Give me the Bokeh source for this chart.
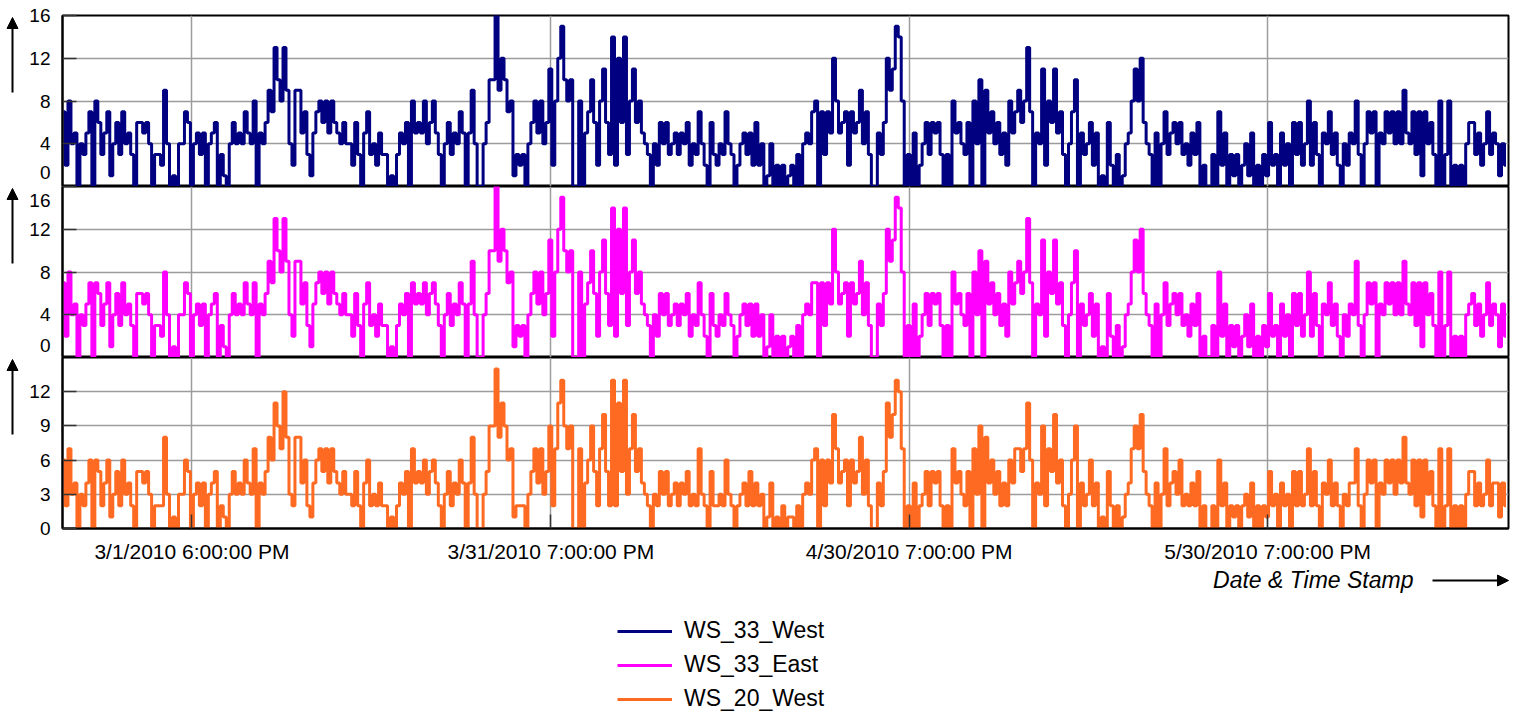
import pandas as pd
from bokeh.plotting import figure
from bokeh.models import Range1d, FixedTicker, Label, Arrow, NormalHead, Legend, LegendItem
from bokeh.layouts import column, row
from bokeh.embed import file_html
from bokeh.resources import INLINE

# ---------------- data ----------------
SERIES_START = "2010-02-19 00:00"
SERIES_STEP = "6h"
X_START = "2010-02-18 22:00"
X_END = "2010-06-19 23:00"

tick_times = ["2010-03-01 18:00", "2010-03-31 19:00", "2010-04-30 19:00", "2010-05-30 19:00"]
tick_labels = ["3/1/2010 6:00:00 PM", "3/31/2010 7:00:00 PM", "4/30/2010 7:00:00 PM", "5/30/2010 7:00:00 PM"]

series_names = ["WS_33_West", "WS_33_East", "WS_20_West"]
series_colors = ["#000080", "#ff00ff", "#ff6a22"]
y_ticks = [[0, 4, 8, 12, 16], [0, 4, 8, 12, 16], [0, 3, 6, 9, 12]]
y_max = [16, 16, 15]
x_title = "Date & Time Stamp"

ws_33_west = [
    7, 2, 8, 4,  5, 0, 4, 3,  5, 7, 0, 8,  6, 3, 5, 7,  1, 4, 6, 3,
    7, 4, 5, 3,  0, 6, 6, 5,  6, 4, 0, 3,  3, 2, 9, 4,  0, 1, 0, 4,
    4, 7, 6, 0,  4, 5, 3, 5,  0, 4, 5, 6,  0, 3, 1, 0,  4, 6, 4, 5,
    4, 7, 5, 4,  8, 0, 5, 4,  6, 9, 7, 13,  10, 8, 13, 9,  4, 2, 9, 9,
    5, 7, 3, 1,  5, 7, 8, 6,  8, 5, 8, 6,  5, 4, 6, 4,  4, 2, 6, 3,
    0, 5, 7, 3,  4, 2, 5, 3,  3, 0, 1, 0,  3, 5, 4, 6,  0, 8, 5, 6,
    5, 8, 4, 6,  8, 5, 3, 0,  4, 6, 3, 5,  4, 7, 5, 0,  5, 9, 4, 0,
    0, 4, 6, 10,  10, 16, 9, 12,  10, 7, 8, 1,  3, 2, 3, 0,  4, 6, 8, 5,
    8, 4, 6, 11,  2, 8, 12, 15,  10, 8, 10, 0,  0, 8, 0, 5,  7, 10, 6, 2,
    8, 11, 6, 3,  14, 2, 12, 6,  14, 3, 8, 11,  6, 8, 5, 4,  3, 0, 4, 2,
    6, 4, 6, 3,  4, 5, 3, 5,  4, 6, 2, 4,  3, 7, 4, 2,  0, 6, 3, 2,
    4, 3, 7, 4,  3, 0, 2, 4,  5, 3, 5, 2,  6, 2, 4, 0,  1, 4, 0, 2,
    0, 2, 0, 1,  2, 0, 3, 0,  4, 5, 4, 7,  8, 0, 7, 3,  7, 5, 12, 8,
    5, 6, 7, 2,  7, 5, 6, 9,  4, 7, 3, 0,  0, 5, 3, 6,  12, 9, 11, 15,
    14, 8, 0, 3,  0, 5, 0, 2,  4, 6, 3, 6,  5, 6, 3, 0,  3, 0, 8, 5,
    6, 4, 3, 6,  0, 8, 4, 10,  0, 9, 5, 7,  4, 6, 3, 5,  2, 8, 5, 7,
    9, 6, 8, 13,  7, 0, 5, 4,  11, 2, 8, 6,  11, 5, 7, 3,  0, 4, 7, 10,
    0, 5, 3, 4,  6, 2, 5, 0,  1, 0, 6, 2,  0, 3, 0, 1,  4, 5, 8, 11,
    8, 12, 6, 4,  3, 0, 5, 0,  4, 7, 3, 5,  6, 4, 6, 3,  4, 2, 5, 3,
    6, 0, 2, 0,  0, 3, 0, 7,  2, 5, 0, 3,  1, 3, 0, 2,  4, 1, 5, 0,
    2, 0, 3, 1,  6, 2, 3, 0,  5, 2, 4, 0,  6, 3, 6, 2,  4, 8, 2, 6,
    3, 0, 5, 4,  7, 3, 5, 2,  0, 4, 2, 5,  4, 8, 3, 0,  4, 7, 5, 7,
    0, 5, 4, 7,  5, 7, 4, 7,  4, 9, 5, 4,  7, 3, 7, 1,  7, 4, 6, 3,
    0, 8, 0, 3,  8, 0, 2, 0,  2, 0, 4, 6,  6, 3, 5, 2,  4, 7, 3, 5,
    4, 1, 4, 2,
]

ws_33_east = [
    7, 2, 8, 4,  5, 0, 4, 3,  5, 7, 0, 7,  6, 3, 5, 7,  1, 4, 6, 3,
    7, 4, 5, 3,  0, 6, 6, 5,  6, 4, 0, 3,  3, 2, 8, 4,  0, 1, 0, 4,
    4, 7, 6, 0,  4, 5, 3, 5,  0, 4, 5, 6,  0, 3, 1, 0,  4, 6, 4, 5,
    4, 7, 5, 4,  7, 0, 5, 4,  6, 9, 7, 13,  10, 8, 13, 9,  4, 2, 9, 9,
    5, 7, 3, 1,  5, 7, 8, 6,  8, 5, 8, 6,  5, 4, 6, 4,  4, 2, 6, 3,
    0, 5, 7, 3,  4, 2, 5, 3,  3, 0, 1, 0,  3, 5, 4, 6,  0, 7, 5, 6,
    5, 7, 4, 6,  7, 5, 3, 0,  4, 6, 3, 5,  4, 7, 5, 0,  5, 9, 4, 0,
    0, 4, 6, 10,  10, 17, 9, 12,  10, 7, 8, 1,  3, 2, 3, 0,  4, 6, 8, 5,
    8, 4, 6, 11,  2, 8, 12, 15,  10, 8, 10, 0,  0, 8, 0, 5,  7, 10, 6, 2,
    8, 11, 6, 3,  14, 2, 12, 6,  14, 3, 8, 11,  6, 8, 5, 4,  3, 0, 4, 2,
    6, 4, 6, 3,  4, 5, 3, 5,  4, 6, 2, 4,  3, 7, 4, 2,  0, 6, 3, 2,
    4, 3, 6, 4,  3, 0, 2, 4,  5, 3, 5, 2,  5, 2, 4, 0,  1, 4, 0, 2,
    0, 2, 0, 1,  2, 0, 3, 0,  4, 5, 4, 7,  7, 0, 7, 3,  7, 5, 12, 8,
    5, 6, 7, 2,  7, 5, 6, 9,  4, 7, 3, 0,  0, 5, 3, 6,  12, 9, 11, 15,
    14, 8, 0, 3,  0, 5, 0, 2,  4, 6, 3, 6,  5, 6, 3, 0,  3, 0, 8, 5,
    6, 4, 3, 6,  0, 8, 4, 10,  0, 9, 5, 7,  4, 6, 3, 5,  2, 8, 5, 7,
    9, 6, 8, 13,  7, 0, 5, 4,  11, 2, 8, 6,  11, 5, 7, 3,  0, 4, 7, 10,
    0, 5, 3, 4,  6, 2, 5, 0,  1, 0, 6, 2,  0, 3, 0, 1,  4, 5, 8, 11,
    8, 12, 6, 4,  3, 0, 5, 0,  4, 7, 3, 5,  6, 4, 6, 3,  4, 2, 5, 3,
    6, 0, 2, 0,  0, 3, 0, 8,  2, 5, 0, 3,  1, 3, 0, 2,  4, 1, 5, 0,
    2, 0, 3, 1,  6, 2, 3, 0,  5, 2, 4, 0,  6, 3, 6, 2,  4, 8, 2, 6,
    3, 0, 5, 4,  7, 3, 5, 2,  0, 4, 2, 5,  4, 9, 3, 0,  4, 7, 5, 7,
    0, 5, 4, 7,  5, 7, 4, 7,  4, 9, 5, 4,  7, 3, 7, 1,  7, 4, 6, 3,
    0, 8, 0, 3,  8, 0, 2, 0,  2, 0, 4, 5,  6, 3, 5, 2,  4, 7, 3, 5,
    4, 1, 5, 2,
]

ws_20_west = [
    6, 2, 7, 3,  4, 0, 3, 2,  4, 6, 0, 6,  5, 2, 4, 6,  1, 3, 5, 2,
    6, 3, 4, 2,  0, 5, 5, 4,  5, 3, 0, 2,  2, 2, 8, 3,  0, 1, 0, 3,
    3, 6, 5, 0,  3, 4, 2, 4,  0, 3, 4, 5,  0, 2, 1, 0,  3, 5, 3, 4,
    3, 6, 4, 3,  7, 0, 4, 3,  5, 8, 6, 11,  9, 7, 12, 8,  3, 2, 8, 8,
    4, 6, 2, 1,  4, 6, 7, 5,  7, 4, 7, 5,  4, 3, 5, 3,  3, 2, 5, 2,
    0, 4, 6, 2,  3, 2, 4, 2,  2, 0, 1, 0,  2, 4, 3, 5,  0, 7, 4, 5,
    4, 6, 3, 5,  6, 4, 2, 0,  3, 5, 2, 4,  3, 6, 4, 0,  4, 8, 3, 0,
    0, 3, 5, 9,  9, 14, 8, 11,  9, 6, 7, 1,  2, 2, 2, 0,  3, 5, 7, 4,
    7, 3, 5, 9,  2, 7, 11, 13,  9, 7, 9, 0,  0, 7, 0, 4,  6, 9, 5, 2,
    7, 10, 5, 2,  13, 2, 11, 5,  13, 3, 7, 10,  5, 7, 4, 3,  2, 0, 3, 2,
    5, 3, 5, 2,  3, 4, 2, 4,  3, 5, 2, 3,  2, 7, 3, 2,  0, 5, 2, 2,
    3, 2, 6, 3,  2, 0, 2, 3,  4, 2, 5, 2,  4, 2, 3, 0,  1, 4, 0, 1,
    0, 2, 0, 1,  1, 0, 2, 0,  3, 4, 3, 6,  7, 0, 6, 2,  6, 4, 10, 7,
    4, 5, 6, 2,  6, 4, 5, 8,  3, 6, 2, 0,  0, 4, 2, 5,  11, 8, 10, 13,
    12, 7, 0, 2,  0, 4, 0, 2,  3, 5, 2, 5,  4, 5, 2, 0,  2, 0, 7, 4,
    5, 3, 2, 5,  0, 7, 3, 9,  0, 8, 4, 6,  3, 5, 2, 4,  2, 6, 4, 7,
    7, 5, 7, 11,  6, 0, 4, 3,  9, 2, 7, 5,  10, 4, 6, 2,  0, 3, 6, 9,
    0, 4, 2, 3,  6, 2, 4, 0,  1, 0, 5, 2,  0, 2, 0, 1,  3, 4, 7, 9,
    7, 10, 5, 3,  2, 0, 4, 0,  3, 7, 2, 4,  5, 3, 6, 2,  3, 2, 4, 2,
    5, 0, 2, 0,  0, 2, 0, 6,  2, 4, 0, 2,  1, 2, 0, 2,  3, 1, 4, 0,
    2, 0, 2, 1,  5, 2, 3, 0,  4, 2, 3, 0,  5, 2, 5, 2,  3, 7, 2, 5,
    2, 0, 4, 3,  6, 2, 4, 2,  0, 3, 2, 4,  4, 7, 2, 0,  3, 6, 4, 6,
    0, 4, 3, 6,  4, 6, 3, 6,  4, 8, 4, 3,  6, 2, 6, 1,  6, 3, 5, 2,
    0, 7, 0, 2,  7, 0, 2, 0,  2, 0, 3, 5,  5, 2, 4, 2,  3, 6, 2, 4,
    4, 1, 4, 2,
]

series_values = [ws_33_west, ws_33_east, ws_20_west]

# ---------------- layout constants (pixels) ----------------
FONT = "Liberation Sans"
GUTTER_W = 24          # left strip holding the vertical arrows
LEFT = 38              # main figure left border (frame starts at x = 62)
RIGHT = 8
TOP = 15
FRAME_W, FRAME_H = 1446, 171
AXIS_H = 40            # space for x tick labels under the bottom panel
FOOT_H = 145           # footer with axis title, arrow and legend
MAIN_W = LEFT + FRAME_W + RIGHT
TOTAL_W = GUTTER_W + MAIN_W

# tick labels that sit a few pixels away from their tick (value, pixel shift)
label_shift = {0: {0: 14}, 1: {16: -14, 0: 12}, 2: {}}


def ms(t):
    return pd.Timestamp(t).value / 1e6


tick_ms = [ms(t) for t in tick_times]
x_range = Range1d(ms(X_START), ms(X_END))

figs = []
for i in range(3):
    top_b = TOP if i == 0 else 0
    bot_b = AXIS_H if i == 2 else 0
    p = figure(
        width=MAIN_W, height=top_b + FRAME_H + bot_b,
        x_range=x_range, y_range=Range1d(0, y_max[i]),
        x_axis_type="datetime", x_axis_location="below" if i == 2 else None,
        output_backend="svg", toolbar_location=None,
        min_border=0, min_border_left=LEFT, min_border_right=RIGHT,
        min_border_top=top_b, min_border_bottom=bot_b,
        background_fill_color="white", border_fill_color="white",
    )
    p.outline_line_color = "black"
    p.outline_line_width = 2

    p.xgrid.ticker = FixedTicker(ticks=tick_ms)
    p.ygrid.ticker = FixedTicker(ticks=y_ticks[i])
    p.grid.grid_line_color = "#9c9c9c"
    p.grid.grid_line_width = 1.5

    # y axis: labels as major ticks (some nudged), tick marks as minor ticks
    per_px = y_max[i] / FRAME_H
    label_pos, overrides = [], {}
    for v in y_ticks[i]:
        if v in label_shift[i]:
            pos = v + label_shift[i][v] * per_px
            overrides[pos] = str(v)
        else:
            pos = v
        label_pos.append(pos)
    ya = p.yaxis[0]
    ya.ticker = FixedTicker(ticks=label_pos, minor_ticks=y_ticks[i])
    ya.major_label_overrides = overrides
    ya.major_tick_line_color = None
    ya.minor_tick_in = 14
    ya.minor_tick_out = 0
    ya.minor_tick_line_color = "#333333"
    ya.minor_tick_line_width = 1.5
    ya.axis_line_color = "black"
    ya.axis_line_width = 2
    ya.major_label_standoff = 6
    ya.major_label_text_font = FONT
    ya.major_label_text_font_size = "19px"
    ya.major_label_text_color = "black"

    times = pd.date_range(SERIES_START, periods=len(series_values[i]), freq=SERIES_STEP)
    p.step(times, series_values[i], mode="center", line_color=series_colors[i], line_width=3)
    figs.append(p)

pb = figs[2]
xa = pb.xaxis[0]
xa.ticker = FixedTicker(ticks=tick_ms)
xa.major_label_overrides = {t: lab for t, lab in zip(tick_ms, tick_labels)}
xa.major_tick_in = 14
xa.major_tick_out = 0
xa.minor_tick_line_color = None
xa.major_tick_line_color = "#333333"
xa.major_tick_line_width = 1.5
xa.axis_line_color = "black"
xa.axis_line_width = 2
xa.major_label_standoff = 11
xa.major_label_text_font = FONT
xa.major_label_text_font_size = "21px"
xa.major_label_text_color = "black"

MAIN_H = TOP + 3 * FRAME_H + AXIS_H


def blank(width, height):
    f = figure(width=width, height=height, x_range=Range1d(0, width), y_range=Range1d(0, height),
               x_axis_location=None, y_axis_location=None, output_backend="svg",
               toolbar_location=None, min_border=0,
               background_fill_color="white", border_fill_color="white")
    f.outline_line_color = None
    f.grid.visible = False
    return f


# left strip with the three upward arrows (pixel coordinates, y upward)
gutter = blank(GUTTER_W, MAIN_H)
for top_px in (TOP, TOP + FRAME_H, TOP + 2 * FRAME_H):
    gutter.add_layout(Arrow(end=NormalHead(size=11, fill_color="black", line_color="black"),
                            x_start=12, y_start=MAIN_H - (top_px + 77),
                            x_end=12, y_end=MAIN_H - (top_px + 2),
                            line_color="black", line_width=2))

# footer: axis title, its arrow, and the legend
footer = blank(GUTTER_W + MAIN_W, FOOT_H)
footer.add_layout(Label(x=1413, y=FOOT_H - 11, text=x_title, text_align="right",
                        text_baseline="middle", text_font=FONT, text_font_size="23px",
                        text_font_style="italic", text_color="black"))
footer.add_layout(Arrow(end=NormalHead(size=11, fill_color="black", line_color="black"),
                        x_start=1432, y_start=FOOT_H - 12, x_end=1508, y_end=FOOT_H - 12,
                        line_color="black", line_width=2))
items = []
for name, col in zip(series_names, series_colors):
    r = footer.line(x=[float("nan")], y=[float("nan")], line_color=col, line_width=3)
    items.append(LegendItem(label=name, renderers=[r]))
legend = Legend(items=items, location=(617, 1), orientation="vertical",
                glyph_width=55, glyph_height=20, label_height=20, label_standoff=12,
                spacing=7, padding=0, margin=0, border_line_color=None,
                background_fill_alpha=0, label_text_font=FONT, label_text_font_size="23px",
                label_text_color="black")
footer.add_layout(legend)

layout = column(row(gutter, column(*figs, spacing=0), spacing=0), footer, spacing=0)
open("out.html", "w").write(file_html(layout, INLINE))
